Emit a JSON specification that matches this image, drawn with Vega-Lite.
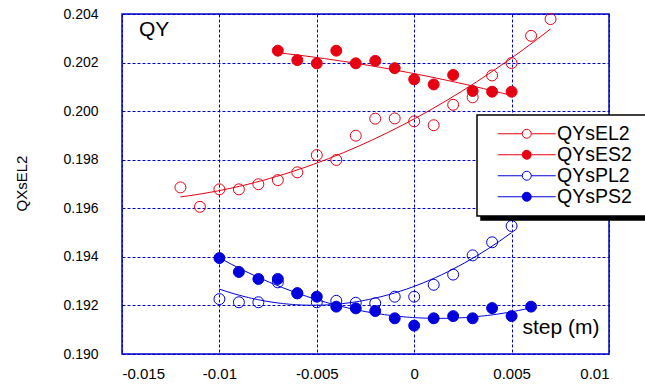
{
  "$schema": "https://vega.github.io/schema/vega-lite/v6.json",
  "width": 487,
  "height": 340,
  "autosize": "none",
  "padding": {"left": 122, "top": 14, "right": 36, "bottom": 36},
  "background": "white",
  "title": {
    "text": "QY",
    "anchor": "start",
    "frame": "group",
    "orient": "top",
    "baseline": "alphabetic",
    "offset": -27,
    "dx": 17,
    "dy": 23,
    "fontSize": 21,
    "font": "Liberation Sans",
    "fontWeight": "normal",
    "color": "black"
  },
  "data": {
    "values": [
      {"series": "QYsEL2", "x": -0.012, "y": 0.19686},
      {"series": "QYsEL2", "x": -0.011, "y": 0.19606},
      {"series": "QYsEL2", "x": -0.010, "y": 0.19678},
      {"series": "QYsEL2", "x": -0.009, "y": 0.19678},
      {"series": "QYsEL2", "x": -0.008, "y": 0.19699},
      {"series": "QYsEL2", "x": -0.007, "y": 0.19716},
      {"series": "QYsEL2", "x": -0.006, "y": 0.19748},
      {"series": "QYsEL2", "x": -0.005, "y": 0.19819},
      {"series": "QYsEL2", "x": -0.004, "y": 0.19799},
      {"series": "QYsEL2", "x": -0.003, "y": 0.19899},
      {"series": "QYsEL2", "x": -0.002, "y": 0.19969},
      {"series": "QYsEL2", "x": -0.001, "y": 0.19970},
      {"series": "QYsEL2", "x": 0.000, "y": 0.19958},
      {"series": "QYsEL2", "x": 0.001, "y": 0.19942},
      {"series": "QYsEL2", "x": 0.002, "y": 0.20026},
      {"series": "QYsEL2", "x": 0.003, "y": 0.20057},
      {"series": "QYsEL2", "x": 0.004, "y": 0.20147},
      {"series": "QYsEL2", "x": 0.005, "y": 0.20198},
      {"series": "QYsEL2", "x": 0.006, "y": 0.20310},
      {"series": "QYsEL2", "x": 0.007, "y": 0.20379},
      {"series": "QYsES2", "x": -0.007, "y": 0.20249},
      {"series": "QYsES2", "x": -0.006, "y": 0.20210},
      {"series": "QYsES2", "x": -0.005, "y": 0.20197},
      {"series": "QYsES2", "x": -0.004, "y": 0.20249},
      {"series": "QYsES2", "x": -0.003, "y": 0.20197},
      {"series": "QYsES2", "x": -0.002, "y": 0.20207},
      {"series": "QYsES2", "x": -0.001, "y": 0.20177},
      {"series": "QYsES2", "x": 0.000, "y": 0.20131},
      {"series": "QYsES2", "x": 0.001, "y": 0.20110},
      {"series": "QYsES2", "x": 0.002, "y": 0.20149},
      {"series": "QYsES2", "x": 0.003, "y": 0.20083},
      {"series": "QYsES2", "x": 0.004, "y": 0.20080},
      {"series": "QYsES2", "x": 0.005, "y": 0.20080},
      {"series": "QYsPL2", "x": -0.010, "y": 0.19226},
      {"series": "QYsPL2", "x": -0.009, "y": 0.19213},
      {"series": "QYsPL2", "x": -0.008, "y": 0.19213},
      {"series": "QYsPL2", "x": -0.007, "y": 0.19295},
      {"series": "QYsPL2", "x": -0.006, "y": 0.19250},
      {"series": "QYsPL2", "x": -0.005, "y": 0.19213},
      {"series": "QYsPL2", "x": -0.004, "y": 0.19219},
      {"series": "QYsPL2", "x": -0.003, "y": 0.19211},
      {"series": "QYsPL2", "x": -0.002, "y": 0.19209},
      {"series": "QYsPL2", "x": -0.001, "y": 0.19236},
      {"series": "QYsPL2", "x": 0.000, "y": 0.19236},
      {"series": "QYsPL2", "x": 0.001, "y": 0.19285},
      {"series": "QYsPL2", "x": 0.002, "y": 0.19327},
      {"series": "QYsPL2", "x": 0.003, "y": 0.19406},
      {"series": "QYsPL2", "x": 0.004, "y": 0.19460},
      {"series": "QYsPL2", "x": 0.005, "y": 0.19527},
      {"series": "QYsPS2", "x": -0.010, "y": 0.19395},
      {"series": "QYsPS2", "x": -0.009, "y": 0.19338},
      {"series": "QYsPS2", "x": -0.008, "y": 0.19309},
      {"series": "QYsPS2", "x": -0.007, "y": 0.19309},
      {"series": "QYsPS2", "x": -0.006, "y": 0.19250},
      {"series": "QYsPS2", "x": -0.005, "y": 0.19236},
      {"series": "QYsPS2", "x": -0.004, "y": 0.19195},
      {"series": "QYsPS2", "x": -0.003, "y": 0.19188},
      {"series": "QYsPS2", "x": -0.002, "y": 0.19177},
      {"series": "QYsPS2", "x": -0.001, "y": 0.19147},
      {"series": "QYsPS2", "x": 0.000, "y": 0.19117},
      {"series": "QYsPS2", "x": 0.001, "y": 0.19147},
      {"series": "QYsPS2", "x": 0.002, "y": 0.19156},
      {"series": "QYsPS2", "x": 0.003, "y": 0.19147},
      {"series": "QYsPS2", "x": 0.004, "y": 0.19189},
      {"series": "QYsPS2", "x": 0.005, "y": 0.19156},
      {"series": "QYsPS2", "x": 0.006, "y": 0.19195}
    ]
  },
  "layer": [
    {
      "mark": {"type": "point", "opacity": 0},
      "encoding": {
        "x": {"field": "x", "type": "quantitative"},
        "y": {"field": "y", "type": "quantitative"},
        "color": {
          "field": "series",
          "type": "nominal",
          "scale": {
            "domain": ["QYsPS2", "QYsPL2", "QYsES2", "QYsEL2"],
            "range": ["black", "black", "black", "black"]
          },
          "legend": {
            "title": null,
            "legendX": 359,
            "legendY": 105,
            "fillColor": "black",
            "strokeColor": "black",
            "symbolOpacity": 0,
            "labelOpacity": 0
          }
        }
      }
    },
    {
      "transform": [
        {"regression": "y", "on": "x", "groupby": ["series"], "method": "poly", "order": 2}
      ],
      "mark": {"type": "line", "strokeWidth": 1},
      "encoding": {
        "x": {
          "field": "x",
          "type": "quantitative",
          "scale": {"domain": [-0.015, 0.01], "nice": false, "zero": false},
          "axis": {
            "values": [-0.015, -0.01, -0.005, 0, 0.005, 0.01],
            "labelExpr": "replace(format(datum.value, '~g'), '\u2212', '-')",
            "labelFontSize": 15,
            "labelPadding": 12,
            "title": "step (m)",
            "titleFontSize": 21,
            "titleAnchor": "end",
            "titleAlign": "right",
            "titleBaseline": "alphabetic",
            "titleX": 477,
            "titleY": -21
          }
        },
        "y": {
          "field": "y",
          "type": "quantitative",
          "scale": {"domain": [0.19, 0.204], "nice": false, "zero": false},
          "axis": {
            "values": [0.19, 0.192, 0.194, 0.196, 0.198, 0.2, 0.202, 0.204],
            "format": ".3f",
            "labelFontSize": 14,
            "labelPadding": 24,
            "title": "QXsEL2",
            "titleFontSize": 15,
            "titleAngle": -90,
            "titleBaseline": "middle",
            "titleX": -101,
            "titleY": 169
          }
        },
        "stroke": {
          "field": "series",
          "type": "nominal",
          "scale": {
            "domain": ["QYsEL2", "QYsES2", "QYsPL2", "QYsPS2"],
            "range": ["#e60012", "#e60012", "#0000dd", "#0000dd"]
          },
          "legend": {"title": null}
        }
      }
    },
    {
      "mark": {"type": "point", "shape": "circle", "size": 120, "strokeWidth": 1, "opacity": 1},
      "encoding": {
        "x": {"field": "x", "type": "quantitative"},
        "y": {"field": "y", "type": "quantitative"},
        "stroke": {"field": "series", "type": "nominal"},
        "fill": {
          "field": "series",
          "type": "nominal",
          "scale": {
            "domain": ["QYsEL2", "QYsES2", "QYsPL2", "QYsPS2"],
            "range": ["transparent", "#e60012", "transparent", "#0000dd"]
          },
          "legend": {"title": null}
        }
      }
    }
  ],
  "config": {
    "view": {"stroke": "#0000cc", "strokeWidth": 1.5},
    "axis": {
      "grid": true,
      "gridColor": "#0000cc",
      "gridDash": [3, 2],
      "gridWidth": 1,
      "gridOpacity": 1,
      "domain": false,
      "ticks": false,
      "labelFont": "Liberation Sans",
      "labelColor": "black",
      "titleFont": "Liberation Sans",
      "titleFontWeight": "normal",
      "titleColor": "black"
    },
    "legend": {
      "orient": "none",
      "legendX": 355,
      "legendY": 101,
      "padding": 9,
      "rowPadding": 0,
      "fillColor": "white",
      "strokeColor": "black",
      "strokeWidth": 1.5,
      "symbolType": "M-6.44,0H-1A1,1 0 1,1 1,0A1,1 0 1,1 -1,0M1,0H6.44M29,0",
      "symbolSize": 81,
      "symbolStrokeWidth": 1,
      "symbolOffset": 31,
      "labelOffset": 20.5,
      "labelFont": "Liberation Sans",
      "labelFontSize": 19.5,
      "labelLimit": 300,
      "labelBaseline": "middle"
    }
  }
}
